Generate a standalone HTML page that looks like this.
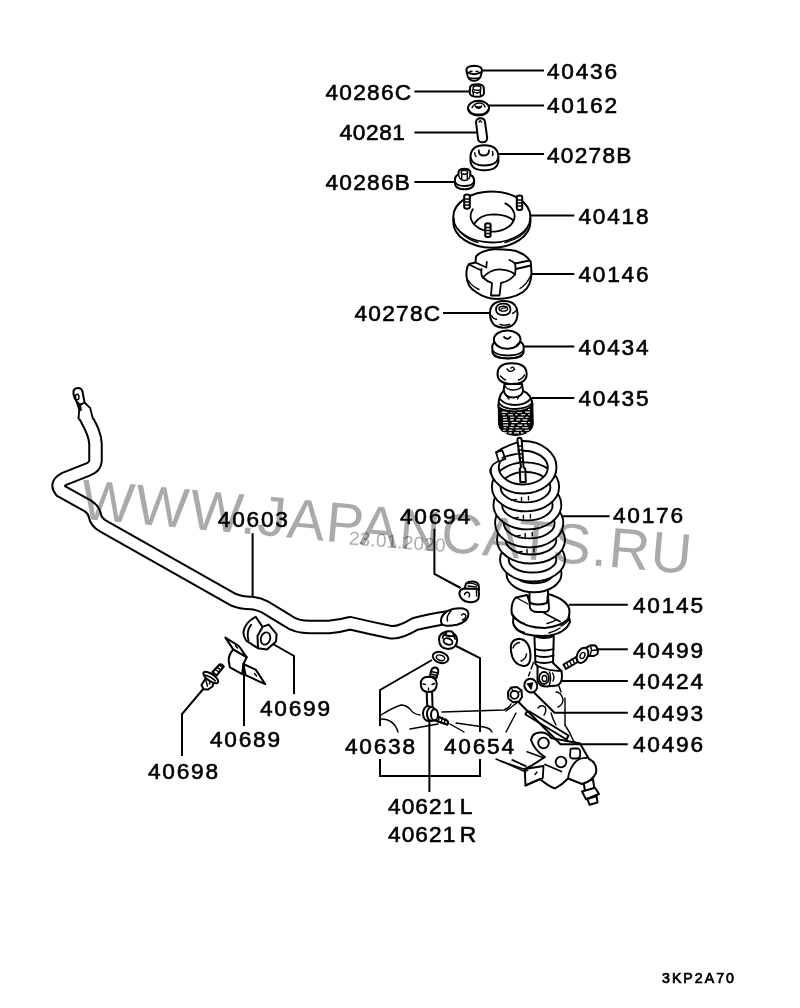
<!DOCTYPE html>
<html><head><meta charset="utf-8"><style>
html,body{margin:0;padding:0;background:#fff;}
svg{display:block;}
.t{font-family:"Liberation Sans",sans-serif;font-size:22.7px;letter-spacing:1.75px;fill:#000;stroke:#000;stroke-width:0.6px;}
.s{font-family:"Liberation Sans",sans-serif;font-size:14.2px;letter-spacing:2.0px;fill:#000;stroke:#000;stroke-width:0.7px;}
.ln{stroke:#000;stroke-width:2;fill:none;}
.o{stroke:#000;stroke-width:2;fill:#fff;stroke-linejoin:round;stroke-linecap:round}
.p{stroke:#000;stroke-width:1.8;fill:none;stroke-linejoin:round;stroke-linecap:round}
.th{stroke:#000;stroke-width:1.4;fill:none;stroke-linecap:round}
</style></head><body>
<svg width="800" height="1008" viewBox="0 0 800 1008">
<rect width="800" height="1008" fill="#fff"/>
<!-- 40436 cap -->
<g>
<path class="o" d="M466.5 71.5 Q465.5 66 474 65.8 Q482.5 66 482 71 L480.5 77 Q478 80.8 474 80.8 Q469.5 80.8 468 77 Z"/>
<path class="p" d="M467 72 Q474 76.5 481.5 72"/>
<path class="th" d="M468.5 77.5 Q474 79.5 479.8 77.5"/>
<path class="th" d="M469.5 73 Q470 70.5 472 71.5 M476 71.5 Q478 70.5 478.8 73"/>
</g>
<!-- 40286C nut -->
<g>
<path class="o" d="M470 87.5 Q470.5 84.5 477 84.3 Q483.5 84.5 483.8 87.5 L484 93.5 Q483 96.8 477 96.8 Q471 96.8 469.8 93.5 Z"/>
<ellipse class="th" cx="477" cy="88" rx="4" ry="2.3"/>
<path class="th" d="M472.5 90 L473.5 95.5 M480.5 90 L480.5 95.5 M474 92 Q477 94 479.5 92"/>
</g>
<!-- 40162 washer -->
<g>
<ellipse class="o" cx="478.5" cy="108.2" rx="10.5" ry="7.4"/>
<path class="p" d="M469 110 Q471 114.5 478.5 114.5 Q486 114.5 488 110"/>
<path class="th" d="M472 107.5 Q475 103 479 103 Q484 103 485 107"/>
<path d="M475 106 Q478.5 110.5 482 106 Q478.5 108 475 106 Z" fill="#000" stroke="#000" stroke-width="1.3"/>
</g>
<!-- 40281 pin -->
<g>
<path class="o" d="M476 122 Q476.5 118.3 480.5 118.3 Q484.5 118.3 485 121.8 L487.2 138 Q487 142.3 482.5 142.3 Q478.3 142.3 478 138.5 Z"/>
<path class="th" d="M479 122 Q480.3 119.5 481.5 122"/>
</g>
<!-- 40278B bushing -->
<g>
<path class="o" d="M470.5 157 Q470.7 145.3 484.4 145.2 Q498.2 145.3 498.4 157 L498.4 161 Q497.8 170.2 484.4 170.3 Q471 170.2 470.5 161 Z"/>
<path class="p" d="M470.7 158 Q472.5 165.5 484.4 165.5 Q496.5 165.5 498.2 158"/>
<path class="p" d="M478.8 150.5 Q478.5 155.5 483.8 155.5 Q489 155.5 489 150.5"/>
<path class="th" d="M474.8 152.8 Q474.5 155 476 156.5 M492.5 151.5 Q493.5 153.5 492.5 155.5"/>
</g>
<!-- 40286B nut -->
<g>
<path class="o" d="M455 181 Q454.5 176 458.5 174.5 L458.5 171.5 Q460 168.7 464.5 168.7 Q469 168.7 470.3 171.5 L470.3 175 Q474.2 176.5 474.2 181 L474 184 Q473 189.3 464.5 189.3 Q456 189.3 455 184 Z"/>
<path class="p" d="M455.2 182 Q457 186 464.5 186 Q472 186 474 182"/>
<path class="th" d="M458.6 175 Q459.5 180.5 464.5 180.5 Q469.5 180.5 470.2 175"/>
<ellipse class="th" cx="464.4" cy="172.2" rx="3.3" ry="2"/>
<path class="th" d="M461.7 174.5 V179.5 M467.3 174.5 V179.5"/>
</g>

<!-- 40418 top mount -->
<g>
<path class="o" d="M453.3 216.5 A38.5 25 0 0 1 530.4 216.5 L530.4 222 A38.5 25.6 0 0 1 453.3 222 Z"/>
<path class="p" d="M453.6 218 A38.3 24.5 0 0 0 530.2 218"/>
<path class="th" d="M460 232 Q468 240 478 242.5 M505 242.5 Q522 238 527 229"/>
<path class="p" d="M472.8 209.3 A22 15.5 0 1 0 505.3 203.4"/>
<path class="p" d="M474.5 223.5 Q480 214.5 493 214.3 Q507 214.5 512.8 220"/>
<!-- studs -->
<path class="o" d="M464.2 196 Q464.5 194.6 467 194.6 Q469.6 194.6 469.8 196 V207 Q469.6 208.7 467 208.7 Q464.4 208.7 464.2 207 Z"/>
<path class="th" d="M464.5 199 H469.5 M464.5 202 H469.5 M464.5 205 H469.5"/>
<path class="o" d="M516.8 197 Q517 195.6 519.5 195.6 Q522 195.6 522.2 197 V208.5 Q522 210 519.5 210 Q517 210 516.8 208.5 Z"/>
<path class="th" d="M517 200 H522 M517 203 H522 M517 206 H522"/>
<path class="o" d="M485.2 224.5 Q485.4 223.2 487.9 223.2 Q490.4 223.2 490.6 224.5 V235.5 Q490.4 237 487.9 237 Q485.4 237 485.2 235.5 Z"/>
<path class="th" d="M485.5 227.5 H490.4 M485.5 230.5 H490.4 M485.5 233.5 H490.4"/>
</g>
<!-- 40146 rubber -->
<g>
<path class="o" d="M469 264 Q466 268 466.5 276 Q467 287 476 292 Q485 298.7 497 299 Q513 298.7 523 292 Q531.3 286 531.5 273 L530.8 262 Q527 255 516 251 Q505 249 494 249.3 Q481 250.5 476 256.5 L475.5 262.5 Z"/>
<path class="p" d="M475.5 262.5 L486.5 267.5 M469.5 264.8 L481.5 270.5 M486.8 262 L486.3 267"/>
<path class="p" d="M509.5 260 Q513 261.5 515 263.5 L529.5 260.5 M516 269 L530.8 265.5"/>
<path class="p" d="M481.5 269 Q480.5 275 483 277.5 Q490 269.2 500 269.3 Q510 269.8 515 274.5 Q516 268.5 515 263.5"/>
<path class="p" d="M483 277.5 Q487 281.5 492 283 L491 295.5 L499.5 295.5 L501 283 Q510 281 515 274.5"/>
<path class="th" d="M468 280 Q472 286.5 479 289.5 M520 288.5 Q527 284 530.5 276"/>
</g>

<!-- 40278C -->
<g>
<path class="o" d="M489.9 313.5 Q490.2 301 503.7 300.9 Q517.3 301 517.6 313.5 Q517.3 322 512 325.5 Q508 327.7 503.7 327.7 Q499 327.7 495 325.5 Q490.2 322 489.9 313.5 Z"/>
<path class="p" d="M496 309.5 Q496.3 303.5 503.2 303.6 Q510.2 303.5 510.5 309.5 Q510.2 315 503.2 315.1 Q496.3 315 496 309.5 Z"/>
<ellipse class="th" cx="503.3" cy="308.7" rx="4.3" ry="2.4"/>
<path d="M500.5 309.5 Q503 307.5 506 308" stroke="#000" stroke-width="1.3" fill="none"/>
<path class="th" d="M491.5 315.5 Q493 318.8 496.5 319.3 M512.5 313.5 Q515.5 312 517 309.5"/>
<path class="th" d="M500 324.3 Q504 326 509.5 324.3" stroke-width="1.8"/>
</g>
<!-- 40434 -->
<g>
<path class="o" d="M492.2 346 L492.5 352.5 Q494 358.3 508 358.5 Q522 358.3 523.5 352.5 L523.7 346 Q522 341 516 340 L500 340 Q493.5 341 492.2 346 Z"/>
<path class="p" d="M492.5 350.5 Q496 355.5 508 355.5 Q520 355.5 523.5 350.5" stroke-width="1.5"/>
<path d="M494 356 Q508 361 522 356" stroke="#000" stroke-width="1.6" fill="none"/>
<ellipse class="o" cx="507.2" cy="339.6" rx="13.3" ry="9.2"/>
<path class="th" d="M495.3 343 Q496.5 345.5 498.5 346 M516.5 345 Q518.8 343.5 519.8 341.5"/>
<path d="M503.5 336.5 Q507 341.5 511 336.5 Q509.5 338.5 507 338.5 Q505 338.5 503.5 336.5 Z" fill="#000" stroke="#000" stroke-width="1.6"/>
</g>
<!-- 40435 bump stop + boot -->
<g>
<path d="M498.6 406 L498.8 424 Q500 434 515.5 435.3 Q531.5 434 533 424 L532.5 405 Q515 412 498.6 406 Z" fill="#000" stroke="#000" stroke-width="1.6"/>
<path d="M501.2 409.5h4.7 M508.1 409.5h4.9 M515.7 409.5h2.8 M520.0 409.5h5.8 M527.9 409.5h2.1 M501.7 412.1h5.8 M510.0 412.1h5.1 M516.9 412.1h5.0 M525.2 412.1h4.6 M502.3 414.7h2.8 M508.1 414.7h4.9 M515.0 414.7h2.6 M520.9 414.7h4.4 M528.2 414.7h1.8 M502.9 417.3h4.1 M510.1 417.3h4.3 M517.7 417.3h6.0 M525.4 417.3h3.0 M503.1 419.9h4.2 M510.1 419.9h3.7 M516.3 419.9h4.0 M522.6 419.9h4.8 M503.1 422.5h5.2 M511.7 422.5h5.9 M521.1 422.5h5.2 M528.1 422.5h1.9 M503.3 425.1h4.8 M511.0 425.1h3.3 M517.5 425.1h4.8 M524.3 425.1h2.8 M503.6 427.7h2.9 M509.5 427.7h4.1 M515.5 427.7h3.7 M522.2 427.7h6.0 M502.9 430.3h2.7 M508.6 430.3h3.8 M515.6 430.3h6.4 M524.6 430.3h4.4 M502.0 432.9h4.9 M508.5 432.9h3.3 M514.1 432.9h4.9 M520.8 432.9h2.7 M526.7 432.9h1.7" stroke="#fff" stroke-width="1.1"/>
<path class="o" d="M498.5 407 Q498 396 503.5 391 L504.5 384 L522 384 L523 391 Q531.5 394 532.5 405 Q528 411 515 411.5 Q502 411 498.5 407 Z"/>
<path class="p" d="M499 403 Q503 409 515.5 409 Q528 408.5 532 403"/>
<path class="p" d="M500 399 Q505 405 515.5 405 Q527 404.5 531 398"/>
<path class="p" d="M504 391 Q505 397.5 513.5 397.5 Q522 397 523 391"/>
<path class="th" d="M504.5 385.5 Q507 390 513.5 390 Q520 390 522 385.5"/>
<path class="th" d="M507 396.5 L509 399 M519 396.5 L517.5 399"/>
<path class="o" d="M497.5 374 Q497.5 363.2 512 363.2 Q526.5 363.2 526.7 374 Q526.5 383.8 512 384 Q497.5 383.8 497.5 374 Z"/>
<path class="th" d="M500.5 376 Q503 379 505.5 380 M518.5 380 Q523 378.5 524.5 375"/>
<path class="th" d="M507 369 Q510 373.5 514.5 369.5 Q513.5 366 511 368" fill="none" stroke-width="1.8"/>
</g>

<path class="o" d="M529.5 585 V604 Q538 608 548 604 V585 Z"/>

<!-- 40176 spring -->
<g>
<path d="M506.5 573.8A27.5 18.5 0 1 0 561.5 573.8A27.5 18.5 0 1 0 506.5 573.8ZM515.2 574.1A18.8 9.2 0 1 0 552.8 574.1A18.8 9.2 0 1 0 515.2 574.1Z" fill="#fff" stroke="#000" stroke-width="1.9"/>
<path d="M500.0 559.5A32.5 22 0 1 0 565.0 559.5A32.5 22 0 1 0 500.0 559.5ZM508.7 559.8A23.8 12.7 0 1 0 556.3 559.8A23.8 12.7 0 1 0 508.7 559.8Z" fill="#fff" stroke="#000" stroke-width="1.9"/>
<path d="M497.0 540.0A34.0 23.5 0 1 0 565.0 540.0A34.0 23.5 0 1 0 497.0 540.0ZM505.7 540.3A25.3 14.2 0 1 0 556.3 540.3A25.3 14.2 0 1 0 505.7 540.3Z" fill="#fff" stroke="#000" stroke-width="1.9"/>
<path class="th" d="M527.0 549.5 v3.5 M534.0 548.5 v3.5 M517.0 552.5 l5 -1"/>
<path d="M495.1 522.9A34.1 24.5 0 1 0 563.3 522.9A34.1 24.5 0 1 0 495.1 522.9ZM503.8 523.2A25.400000000000002 15.2 0 1 0 554.6 523.2A25.400000000000002 15.2 0 1 0 503.8 523.2Z" fill="#fff" stroke="#000" stroke-width="1.9"/>
<path class="th" d="M525.2 533.4 v3.5 M532.2 532.4 v3.5 M515.2 536.4 l5 -1"/>
<path d="M493.5 504.9A33.9 24.5 0 1 0 561.3 504.9A33.9 24.5 0 1 0 493.5 504.9ZM502.2 505.2A25.2 15.2 0 1 0 552.6 505.2A25.2 15.2 0 1 0 502.2 505.2Z" fill="#fff" stroke="#000" stroke-width="1.9"/>
<path class="th" d="M523.4 515.4 v3.5 M530.4 514.4 v3.5 M513.4 518.4 l5 -1"/>
<path d="M491.9 486.9A33.6 24.5 0 1 0 559.1 486.9A33.6 24.5 0 1 0 491.9 486.9ZM500.6 487.2A24.900000000000002 15.2 0 1 0 550.4 487.2A24.900000000000002 15.2 0 1 0 500.6 487.2Z" fill="#fff" stroke="#000" stroke-width="1.9"/>
<path class="th" d="M521.5 497.4 v3.5 M528.5 496.4 v3.5 M511.5 500.4 l5 -1"/>
<path d="M490.1 467.3A33.2 26.2 0 1 0 556.5 467.3A33.2 26.2 0 1 0 490.1 467.3ZM498.8 467.6A24.500000000000004 16.9 0 1 0 547.8 467.6A24.500000000000004 16.9 0 1 0 498.8 467.6Z" fill="#fff" fill-rule="evenodd" stroke="#000" stroke-width="1.9"/>
<path d="M487.5 470 L488 461 Q493 445 517.5 437.5 L517.5 455.5 L505 459.5 L499 462.5 L493.5 467 L491.5 468 Z" fill="#fff"/>
<path class="p" d="M490.6 473 C490 468.5 492.5 464 497.5 461.8 M496.2 452.3 Q504 446.5 517 442.6 M502.5 457.8 Q509 455 517 453.8"/>
<path class="p" d="M496 452.3 L502.2 450.3 L505.3 458.8 L498.8 461.5 Z"/>
<path class="o" d="M517.4 440 Q517.6 437.8 519.5 437.8 Q521.4 437.8 521.7 440 L523.5 467 L525.3 469 L525.8 482 H520.3 L519.8 469 L521 467 Z" />
<path class="th" d="M518 446 H521.8 M518.3 450 H522 M518.6 454 H522.3 M519 458 H522.5 M519.2 462 H522.8 M520 472 H525.3"/>
</g>
<!-- 40145 spring seat -->
<g>
<!-- lower ring -->
<path class="o" d="M513 622 Q513.5 630 525 634 Q538 637 550 635.5 Q566 632.5 570 622 L569 617 Q540 630 513.5 617 Z"/>
<path class="th" d="M513.5 624 Q516 630 524.5 632.5 M549 633 Q556 631 560 628 M561 626 Q567 623 569.5 619"/>
<!-- upper body -->
<path class="o" d="M511.5 611 Q511.5 601 516 597.5 L527 595 L530 603 Q538 606 547 603 L548 594 Q566 599 569.3 609 Q570 617 567 620 Q561 626 545 628 Q525 628 514.5 618 Q511.5 615 511.5 611 Z"/>
<path class="p" d="M529 596 L530 608 Q532 612 537 612 L546 612 Q549.5 611 549 607 L548 594"/>
<path class="p" d="M544 613 L560 621.5"/>
<path class="th" d="M516 597.5 L528 604"/>
<path class="th" d="M513 615 Q518 622 524.5 623.5 M547 623.5 Q553 622 556 620"/>
</g>
<!-- strut lower tube -->
<g>
<path class="o" d="M534.4 636 L535.5 664 L537.5 666 L537.5 680 Q539 686.5 546 686.5 L557 685.5 Q562 683.5 562 676 L561.5 671 L553 663 L553.8 636 Q544 640 534.4 636 Z"/>
<path class="p" d="M534.8 649 Q544 652 553.6 649 M535 655.5 Q544 658.5 553.5 655.5 M535.3 661.5 Q544 664.5 553.3 661.5"/>
<path class="p" d="M537.5 666 Q548 671 561.5 671"/>
<ellipse class="p" cx="544" cy="678" rx="5" ry="6"/>
<ellipse class="th" cx="544.5" cy="678.5" rx="2.4" ry="3"/>
<path class="th" d="M549.5 672 Q552 679 549 686 M553 681 Q555 677 552.5 673"/>
</g>
<!-- knuckle boss (left ellipse) -->
<g>
<path class="o" d="M511 651 Q509.5 639.5 519 638.8 Q529.5 639.5 530.5 655 Q530.5 666.5 523.5 666 Q512.5 664.5 511 651 Z"/>
<path class="th" d="M513 648 Q515 643 519.5 642.5 M521 661 Q526 659 526.5 654"/>
<path class="th" d="M533.5 662.5 L531 669 M530 672 L528.5 676"/>
</g>
<!-- 40499 bolt -->
<g>
<path class="o" d="M563.5 664.5 L579.5 655 L582 659.5 L566 669 Z"/>
<path class="th" d="M566.5 662.5 L568.5 667 M569.5 660.7 L571.5 665.2 M572.5 659 L574.5 663.5 M575.5 657.2 L577.5 661.7"/>
<path class="o" d="M586.5 647.5 L590.5 645.3 L595.5 645.6 L598 649.5 L597.5 654 L594 656 L588.5 656 Z"/>
<path class="th" d="M590.5 645.5 L591.5 650.5 L597.5 650 M591.5 650.5 L590 655.5"/>
<ellipse class="o" cx="582.5" cy="655.3" rx="5.3" ry="8" transform="rotate(25 582.5 655.3)"/>
<ellipse class="th" cx="582.5" cy="655.5" rx="2.2" ry="3.2" transform="rotate(25 582.5 655.5)"/>
</g>
<!-- 40493 washer -->
<g>
<ellipse class="o" cx="530.8" cy="685.6" rx="6.3" ry="7" transform="rotate(-25 530.8 685.6)"/>
<path d="M527.5 684 L532.5 683 L531 689 Z" fill="#000" stroke="#000" stroke-width="1.3"/>
</g>
<!-- 40496 nut -->
<g>
<path class="o" d="M508 692 L511 687.5 L517 687 L521.5 690.5 L522 697 L519 701.5 L513 702.3 L508.3 698.5 Z"/>
<circle class="p" cx="514.5" cy="694.8" r="4"/>
<path class="th" d="M511 687.5 L513 691 M521.5 690.5 L518 692.5"/>
</g>

<!-- knuckle lower -->
<g>
<path class="o" d="M583.5 781.5 L593 779.5 L594.5 789.5 L585 791.5 Z"/>
<path class="o" d="M582 791.5 L595 787.8 L599 794 L586 799.3 Z"/>
<path class="o" d="M587.5 799 L596.5 796 L597.5 802.5 L589.5 804.8 Z"/>
<path class="o" d="M551 738 Q547 732 540 732.5 Q532 733 531 740 Q535 751 545 757 L531 766 L524.8 769 L525.5 785.5 L540 779 Q548 786 555 788.5 Q563 784 568 778.5 L582 784 Q592 781.5 596 773 Q597.5 763 589 759 L580 743.5 Z"/>
<path class="p" d="M568 778.5 Q569.5 767 577 760.5 Q581.5 757.5 586.5 758"/>
<circle class="p" cx="543.5" cy="743" r="5.3"/>
<circle class="p" cx="561" cy="762" r="5.3"/>
<path class="p" d="M570.5 750 Q570 748.5 573 748.3 L578 748.5 Q580 749 580.2 752 L580 756.5 Q579.5 758.5 576 758.5 L572 758.5 Q570 758 570 756 Z"/>
<path class="p" d="M524.8 769 L543.5 766 L542.8 778 L525.5 785.5"/>
<path class="th" d="M535 774.5 L537 772" stroke-width="2"/>
<path class="p" d="M545 764.5 L561.5 771.5"/>
<path class="th" d="M500 760.75 L527.75 770.5 M512.75 760 L524.8 766 M527 751.75 L543.5 757.75"/>
</g>
<!-- bracket strip and leader-side lines -->
<g>
<path class="o" d="M525.5 714.5 Q526 711 529.5 711.5 L568.5 735.5 L566.5 739.5 Z"/>
<path class="th" d="M565 698 V725 M556 692 Q561 692 563 699 Q563 705 558 707 M561 692 L559 686"/>
<path class="th" d="M538 708 Q541 704 545 707 Q547 711 544 715 M551 713 Q553 720 556 725"/>
<path class="th" d="M565 725 Q570 732 574 742 L580 743.5"/>
</g>
<!-- arm sketch lines -->
<g class="th">
<path d="M381 715 Q392 708 401 705 Q406 705 410 709 Q413 714 420 715"/>
<path d="M381 719 Q394 719 398 732"/>
<path d="M410 729 L438 724"/>
<path d="M442 712 L504 710 Q509 708 511 704 M506 711 L518 702"/>
<path d="M450 724 L464 732"/>
<path d="M456 723 L484 727 Q490 728 492 732"/>
<path d="M516 713 L506 732"/>
<path d="M496 759 L526 772 M512 760 L526 766"/>
</g>

<!-- 40603 stabilizer bar -->
<g fill="none" stroke-linejoin="round" stroke-linecap="round">
<path id="barc" d="M81.5 409 C86 420 95 430 95.5 444 L95.5 461 Q95 467 88 469.5 L64 479 Q55 484 61 491 L88 506 Q94 510 95 516 Q96 522 103 526 L233 599.5 Q241 603 251 603 Q258 603.5 265 607 L288 621 Q296 627 310 627 L329 627 Q340 626 350 623.2 Q370 628 391.5 632.3 Q400 633 415 624 Q430 620 452 617" stroke="#000" stroke-width="14.5"/>
<path d="M81.5 409 C86 420 95 430 95.5 444 L95.5 461 Q95 467 88 469.5 L64 479 Q55 484 61 491 L88 506 Q94 510 95 516 Q96 522 103 526 L233 599.5 Q241 603 251 603 Q258 603.5 265 607 L288 621 Q296 627 310 627 L329 627 Q340 626 350 623.2 Q370 628 391.5 632.3 Q400 633 415 624 Q430 620 452 617" stroke="#fff" stroke-width="10.5"/>
</g>
<!-- tip -->
<path d="M73 400 L85 400 Q88 405 91 407.5 L94 418.5 L78.3 418.5 L77.5 417 L71.5 411 Z" fill="#fff"/>
<path class="p" d="M84.5 402.5 Q87.5 405.5 90.2 408 L92.8 418.5 M76.5 401.5 L79.2 409.5 L78.6 418.5"/>
<path class="o" d="M76.5 401.5 Q73 396 73.5 391 Q74.5 388 78 388 Q81.5 388 82.5 391.5 L84.5 402.5 L80 405 Z"/>
<ellipse class="th" cx="77.2" cy="397" rx="1.8" ry="2.8" fill="#000" fill-opacity="0.3"/>
<path d="M79.8 403.5 L80.6 411" stroke="#000" stroke-width="2.4"/>
<!-- end eye -->
<path class="o" d="M441 621.5 Q441 612 453 609 Q467 606.5 468.5 613.5 Q469 621 457 624.8 Q441 628 441 621.5 Z"/>
<path class="th" d="M451 611 Q446 616 447.5 621"/>
<path class="th" d="M461.5 615 Q464 612 466 616 Q465.5 619.5 462.5 620"/>
<!-- 40694 nut -->
<g>
<path class="o" d="M464.5 589 L466 583.5 Q468.5 581.3 473 581.5 Q477.5 582 478.7 585 L479 590 Z"/>
<path class="th" d="M467 583.5 Q472 582.3 477.5 585.5 M468 586 L476.5 587"/>
<path class="o" d="M459.3 594 Q459.5 589 464.5 588.5 L478.5 589 Q479.5 594 478.5 598.5 Q476.5 602.3 470 602.3 Q461 601.5 459.3 594 Z"/>
<path class="th" d="M464.5 594.5 Q465.5 591.5 468.5 592.5 Q470.5 594.5 469 597"/>
<path class="th" d="M476.5 590 V596"/>
</g>
<!-- 40654 washer -->
<g>
<path class="o" d="M439 639 Q439.5 632.5 447 631.8 Q456.5 632 457.2 640 Q457 648.5 448 649 Q439 648.5 439 639 Z"/>
<ellipse class="p" cx="448" cy="641.5" rx="4.6" ry="3" transform="rotate(20 448 641.5)"/>
<path class="p" d="M442.5 638 Q443 634 448 633.5 Q454.5 634 455 639"/>
<path class="o" d="M445.5 635 L446.5 631.5 Q449 630.8 452 631.5 L454.5 635.5 Q450 637 445.5 635 Z"/>
</g>
<!-- 40638 washer -->
<g>
<ellipse class="o" cx="440.5" cy="657.5" rx="8" ry="5.3" transform="rotate(18 440.5 657.5)"/>
<ellipse class="th" cx="440.5" cy="657.8" rx="4.3" ry="2.6" transform="rotate(18 440.5 657.8)"/>
</g>
<!-- 40621 link -->
<g>
<path class="o" d="M430 676 L431 671 Q432 667.3 435.5 667.5 Q438.8 668.5 438.2 672 L436.5 678 Z"/>
<path class="th" d="M431.2 671.5 L437.8 673 M430.8 674 L437.2 675.5"/>
<path class="o" d="M426.6 690 L427.3 708 H432.6 L432 690 Z"/>
<path class="o" d="M420.8 684 Q420.5 677 428.5 676.8 Q436.7 677 436.8 684 Q436.5 692 428.5 692 Q421 692 420.8 684 Z"/>
<path class="th" d="M423 684 L425.5 684.5 M434.5 683.5 L432 684.5 M428.5 690 V688"/>
<path class="o" d="M433 714.5 L447 720.5 Q449 722.5 447.5 724.8 L432.5 719.5 Z"/>
<path class="th" d="M436.5 715 L435 720.5 M439.5 716.5 L438 722 M442.5 717.5 L441 723 M445.5 719 L444 724"/>
<ellipse class="o" cx="428" cy="713.5" rx="5" ry="7.5"/>
<ellipse class="o" cx="431.5" cy="714" rx="4.5" ry="7"/>
<ellipse class="o" cx="434.5" cy="714.8" rx="3.5" ry="5.5"/>
</g>

<!-- 40699 bushing -->
<g>
<path class="o" d="M255.7 616.8 L262.5 626.9 L258 648.2 L250 643.2 Q244 640.5 243.4 632.5 Q244.5 622.5 255.7 616.8 Z"/>
<path class="p" d="M251.2 624.6 Q246 631 248.5 640.5"/>
<path class="o" d="M262.5 626.9 L268.7 624.6 L276.6 634.2 L276 641.5 L267 649.4 L258 648.2 L257.5 636 Z"/>
<ellipse class="p" cx="265.5" cy="638.5" rx="4.6" ry="6.3" transform="rotate(18 265.5 638.5)"/>
</g>
<!-- 40689 bracket -->
<g>
<path class="o" d="M233.2 649.5 Q228.5 655 228.7 660.6 L229.9 667.4 L242.2 674.1 L243.4 664 L246.7 657.2 Z"/>
<path class="o" d="M225.4 637.6 L238.9 646 L246.7 657.2 L233.2 649.4 Z"/>
<path class="th" d="M235.5 645.5 L237.5 648"/>
<path class="o" d="M243.4 664 L255.7 669.6 L265.3 684.2 L245.6 675.2 Z"/>
<path class="th" d="M254.5 673.5 L256.5 676"/>
</g>
<!-- 40698 bolt -->
<g>
<path class="o" d="M212.5 672 L219.5 664.5 Q222 663.5 223.8 666.5 L216.5 675.5 Z"/>
<path class="th" d="M215 669.5 L219 672 M217 667.3 L221 669.8 M219.3 665.3 L223 667.5" stroke-width="1.6"/>
<path class="o" d="M201.5 685 L205.5 678.5 L210.5 677.5 L213.5 681.5 L212.5 686.5 L208 689.5 L203.5 689.3 Z"/>
<path class="th" d="M205.5 679 L207.5 686 M210.5 678 L209.5 684"/>
<ellipse class="o" cx="210.8" cy="677.5" rx="8.8" ry="3.5" transform="rotate(35 210.8 677.5)"/>
<path class="th" d="M205 675 Q211 676.5 215.5 681"/>
</g>

<g class="ln">
<path d="M482.5 70.6H544"/>
<path d="M414.4 91.5H469"/>
<path d="M489 105.6H544"/>
<path d="M414.4 132.5H477"/>
<path d="M498.5 154H544"/>
<path d="M414.4 181.9H454"/>
<path d="M530.5 215.5H574.3"/>
<path d="M531 274H574.3"/>
<path d="M443 313H491"/>
<path d="M524 346.6H574.3"/>
<path d="M532 397.9H574.3"/>
<path d="M561.3 516.2H609.6"/>
<path d="M568.8 604.8H627.8"/>
<path d="M596.5 649.3H627.8"/>
<path d="M561 681H627.8"/>
<path d="M533.5 692L554.5 712.7H627.8"/>
<path d="M518 701.5L560.5 744.2H627.8"/>
<path d="M252.6 533.2V597"/>
<path d="M434.4 528.8V573.8L460.6 588"/>
<path d="M273 644L294 656V694"/>
<path d="M244 663V726"/>
<path d="M204 688L182 714V756"/>
<path d="M432 660L380 690V726M380 759V776H480V759M480 732V658L456 646"/>
<path d="M429.4 719V792"/>
</g>

<g class="t">
<text x="547" y="78.9">40436</text>
<text x="325.5" y="99.7" style="letter-spacing:1.25px">40286C</text>
<text x="547" y="113.2">40162</text>
<text x="339.5" y="140.3" style="letter-spacing:0.6px">40281</text>
<text x="547" y="163.2" style="letter-spacing:1.25px">40278B</text>
<text x="325.5" y="189.7" style="letter-spacing:1.25px">40286B</text>
<text x="578.5" y="223.9">40418</text>
<text x="578.5" y="281.7">40146</text>
<text x="354.5" y="321.3" style="letter-spacing:1.25px">40278C</text>
<text x="578.5" y="354.9">40434</text>
<text x="578.5" y="406.0">40435</text>
<text x="613" y="523.3">40176</text>
<text x="217.8" y="527.2">40603</text>
<text x="400" y="524.1">40694</text>
<text x="633" y="613.0">40145</text>
<text x="633" y="657.7">40499</text>
<text x="633" y="689.3">40424</text>
<text x="633" y="720.9">40493</text>
<text x="633" y="752.1">40496</text>
<text x="260" y="716.3">40699</text>
<text x="210" y="747.3">40689</text>
<text x="148" y="779.3">40698</text>
<text x="345" y="753.9">40638</text>
<text x="444" y="753.9">40654</text>
<text x="388" y="813.5" style="letter-spacing:1.05px">40621<tspan dx="3.5">L</tspan></text>
<text x="388" y="841.7" style="letter-spacing:1.05px">40621<tspan dx="3.5">R</tspan></text>
</g>
<text class="s" x="662" y="983.3">3KP2A70</text>

<g style="mix-blend-mode:multiply" transform="translate(79.5 518.5) rotate(5.2)">
<text x="0" y="0" font-family="Liberation Sans, sans-serif" font-size="56.5" letter-spacing="1.25" fill="#aaaaaa">WWW.JAPANCATS.RU</text>
</g>
<g style="mix-blend-mode:multiply" transform="translate(348.5 544.5) rotate(4.5)">
<text x="0" y="0" font-family="Liberation Sans, sans-serif" font-size="19" letter-spacing="0.2" fill="#777" fill-opacity="0.6">23.01.2020</text>
</g>

</svg></body></html>
